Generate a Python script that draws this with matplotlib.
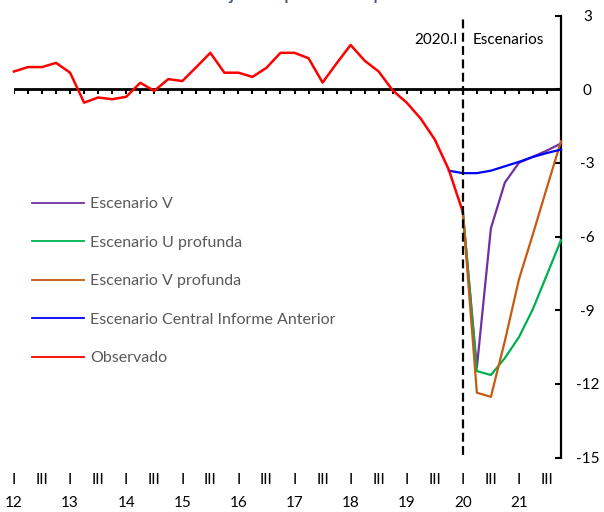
import matplotlib
matplotlib.use("Agg")
import matplotlib.pyplot as plt
import matplotlib.transforms as mtransforms
import numpy as np

plt.rcParams["font.family"] = ["Lato", "DejaVu Sans"]
plt.rcParams["axes.unicode_minus"] = False

# Quarterly index: 2012.I ... 2021.IV
years = ["12", "13", "14", "15", "16", "17", "18", "19", "20", "21"]
n_quarters = 4 * len(years)
quarters = np.arange(n_quarters)

# Observed output gap, 2012.I - 2020.I (% of potential output)
observado = [0.72, 0.90, 0.90, 1.07, 0.67, -0.55, -0.34, -0.41,
             -0.31, 0.26, -0.07, 0.41, 0.33, 0.90, 1.48, 0.67,
             0.67, 0.50, 0.87, 1.48, 1.48, 1.26, 0.27, 1.05,
             1.80, 1.16, 0.72, -0.05, -0.55, -1.20, -2.05, -3.28,
             -5.00]

# Scenarios, 2020.I - 2021.IV
esc_start = 32
esc_v = [-5.00, -11.34, -5.67, -3.80, -3.00, -2.75, -2.50, -2.21]
esc_u_prof = [-5.00, -11.48, -11.64, -10.95, -10.10, -8.95, -7.55, -6.15]
esc_v_prof = [-5.00, -12.36, -12.53, -10.25, -7.75, -5.90, -4.00, -2.12]

# Central scenario of the previous report, 2019.IV - 2021.IV
central_start = 31
esc_central_ant = [-3.32, -3.42, -3.42, -3.32, -3.14, -2.96, -2.76, -2.60, -2.46]

W, H = 604, 512
fig = plt.figure(figsize=(W / 100, H / 100), dpi=100)
ax = fig.add_axes([14 / W, 1 - 457.5 / H, (561 - 14) / W, (457.5 - 15.5) / H])

x_esc = quarters[esc_start:esc_start + len(esc_v)]
x_cen = quarters[central_start:central_start + len(esc_central_ant)]
x_obs = quarters[:len(observado)]

lw = 1.6
ax.plot(x_esc, esc_v, color="#7030A0", lw=lw, label="Escenario V", clip_on=False, zorder=3)
ax.plot(x_esc, esc_u_prof, color="#00B050", lw=lw, label="Escenario U profunda", clip_on=False, zorder=3)
ax.plot(x_esc, esc_v_prof, color="#C55A11", lw=lw, label="Escenario V profunda", clip_on=False, zorder=4)
ax.plot(x_cen, esc_central_ant, color="#0000FF", lw=lw, label="Escenario Central Informe Anterior",
        clip_on=False, zorder=4)
ax.plot(x_obs, observado, color="#FF0000", lw=1.8, label="Observado", clip_on=False, zorder=5)

ax.set_xlim(0, n_quarters - 1)
ax.set_ylim(-15, 3)

# zero line with quarterly ticks
ax.axhline(0, color="black", lw=2, zorder=2)
ax.vlines(quarters[:-1], -0.2, 0, color="black", lw=1.5, zorder=2)

# start of scenarios
ax.vlines(esc_start, -14.9, 3.0, color="black", lw=1.6, linestyles=(0, (4, 2)), zorder=6)
ax.text(esc_start - 0.35, 2.0, "2020.I", ha="right", va="center", fontsize=11, color="black")
ax.text(esc_start + 0.7, 2.0, "Escenarios", ha="left", va="center", fontsize=11, color="black")

# right value axis
for s in ["left", "top", "bottom"]:
    ax.spines[s].set_visible(False)
ax.spines["right"].set_linewidth(1.6)
ax.yaxis.tick_right()
ax.set_yticks([3, 0, -3, -6, -9, -12, -15])
ax.tick_params(axis="y", direction="in", length=4, width=1.5, labelsize=11, pad=19)
for lab in ax.get_yticklabels():
    lab.set_horizontalalignment("center")
ax.set_xticks([])

# two-row quarter / year labels
tr = mtransforms.blended_transform_factory(ax.transData, fig.transFigure)
for i, yr in enumerate(years):
    ax.text(4 * i, 1 - 480 / H, "I", transform=tr, ha="center", va="center", fontsize=11)
    ax.text(4 * i + 2, 1 - 480 / H, "III", transform=tr, ha="center", va="center", fontsize=11)
    ax.text(4 * i, 1 - 503 / H, yr, transform=tr, ha="center", va="center", fontsize=11)

leg = ax.legend(loc="upper left", bbox_to_anchor=(32 / W, 1 - 197 / H), bbox_transform=fig.transFigure,
                frameon=False, fontsize=11.5, handlelength=3.25, handletextpad=0.38, labelspacing=1.525,
                borderaxespad=0, borderpad=0)
for t in leg.get_texts():
    t.set_color("#595959")
for h in leg.get_lines():
    h.set_linewidth(1.3)

fig.text(0.5, 1 + 1 / H, "Porcentaje del producto potencial", ha="center", va="baseline",
         fontsize=15, color="#44546A")

fig.savefig("out.png", dpi=100)
